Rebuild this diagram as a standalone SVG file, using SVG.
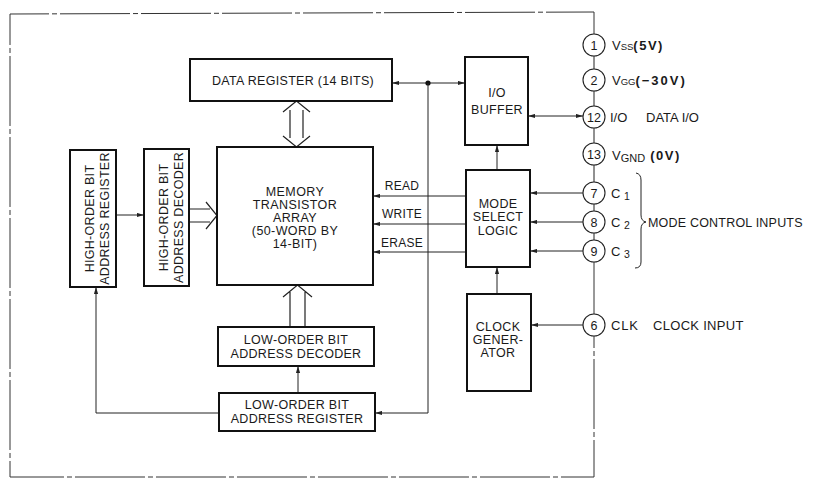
<svg xmlns="http://www.w3.org/2000/svg" width="813" height="479" viewBox="0 0 813 479">
<style>
  .box { fill: #fff; stroke: #111; stroke-width: 2; }
  .ln { fill: none; stroke: #222; stroke-width: 1; }
  .wide { fill: none; stroke: #222; stroke-width: 1.2; }
  .frame { fill: none; stroke: #333; stroke-width: 1; stroke-dasharray: 70 3 5 3; }
  .pin { fill: #fff; stroke: #222; stroke-width: 1.1; }
  text { font-family: "Liberation Sans", Arial, sans-serif; fill: #1a1a1a; }
  .t { font-size: 12.5px; text-anchor: middle; letter-spacing: 0.3px; }
  .m { font-size: 12.5px; text-anchor: middle; letter-spacing: 0.4px; }
  .lbl { font-size: 12px; text-anchor: middle; letter-spacing: 0.3px; }
  .pn { font-size: 12.5px; text-anchor: middle; }
  .pl { font-size: 13px; }
  .sub { font-size: 9.5px; }
</style>
<defs>
  <marker id="ah" viewBox="0 0 7 5" refX="7" refY="2.5" markerWidth="7" markerHeight="5" markerUnits="userSpaceOnUse" orient="auto-start-reverse">
    <path d="M0,0.4 L7,2.5 L0,4.6 z" fill="#222"/>
  </marker>
</defs>
<rect width="813" height="479" fill="#fff"/>

<g id="frame">
  <path class="frame" d="M594,34 L594,12 L10,14 L10,477 L594,477 L594,336"/>
  <path class="frame" d="M594,262 L594,314"/>
</g>

<g id="connectors">
  <path class="ln" d="M594,56 V69 M594,91 V106 M594,128 V143 M594,165 V182 M594,204 V211 M594,233 V240"/>
  <line class="ln" x1="428" y1="83" x2="392" y2="83" marker-end="url(#ah)"/>
  <line class="ln" x1="428" y1="83" x2="465" y2="83" marker-end="url(#ah)"/>
  <circle cx="428" cy="83" r="2.6" fill="#111"/>
  <path class="ln" d="M428,83 V413 H375" marker-end="url(#ah)"/>
  <line class="ln" x1="528" y1="116" x2="583" y2="116" marker-start="url(#ah)" marker-end="url(#ah)"/>
  <line class="ln" x1="497" y1="170" x2="497" y2="145" marker-end="url(#ah)"/>
  <line class="ln" x1="497" y1="294" x2="497" y2="267" marker-end="url(#ah)"/>
  <line class="ln" x1="583" y1="193" x2="530" y2="193" marker-end="url(#ah)"/>
  <line class="ln" x1="583" y1="222" x2="530" y2="222" marker-end="url(#ah)"/>
  <line class="ln" x1="583" y1="251" x2="530" y2="251" marker-end="url(#ah)"/>
  <line class="ln" x1="583" y1="325" x2="531" y2="325" marker-end="url(#ah)"/>
  <line class="ln" x1="466" y1="196" x2="373" y2="196" marker-end="url(#ah)"/>
  <line class="ln" x1="466" y1="224" x2="373" y2="224" marker-end="url(#ah)"/>
  <line class="ln" x1="466" y1="252" x2="373" y2="252" marker-end="url(#ah)"/>
  <text class="lbl" x="402" y="190">READ</text>
  <text class="lbl" x="402" y="218">WRITE</text>
  <text class="lbl" x="402" y="247">ERASE</text>
  <line class="ln" x1="116" y1="215" x2="144" y2="215" marker-end="url(#ah)"/>
  <path class="ln" d="M219,413 H96 V287" marker-end="url(#ah)"/>
  <line class="ln" x1="298" y1="393" x2="298" y2="366" marker-end="url(#ah)"/>
  <path class="wide" d="M189,209 H210 M189,222 H210 M206,202 L217,215.5 L206,229"/>
  <path class="wide" d="M290,110 V138 M303,110 V138 M283,112 L296.5,101 L310,112 M283,136 L296.5,147 L310,136"/>
  <path class="wide" d="M290,327 V292 M305,327 V292 M283,297 L297.5,285 L312,297"/>
  <path class="ln" d="M636,173 Q641,174 641,180 V215 Q641,221 646,222 Q641,223 641,229 V262 Q641,268 635,268"/>
  <text x="648" y="227" font-size="12.5" letter-spacing="0.2">MODE CONTROL INPUTS</text>
</g>

<g id="data-register">
  <rect class="box" x="190" y="59" width="202" height="42"/>
  <text class="t" x="293" y="85" font-size="13">DATA REGISTER (14 BITS)</text>
</g>

<g id="memory-array">
  <rect class="box" x="217" y="147" width="156" height="138"/>
  <text class="m" x="295" y="196">MEMORY</text>
  <text class="m" x="295" y="209">TRANSISTOR</text>
  <text class="m" x="295" y="222">ARRAY</text>
  <text class="m" x="295" y="235">(50-WORD BY</text>
  <text class="m" x="295" y="248">14-BIT)</text>
</g>

<g id="high-order-register">
  <rect class="box" x="70" y="150" width="46" height="137"/>
  <text class="t" transform="translate(94,218.5) rotate(-90)">HIGH-ORDER BIT</text>
  <text class="t" transform="translate(109,218.5) rotate(-90)">ADDRESS REGISTER</text>
</g>

<g id="high-order-decoder">
  <rect class="box" x="144" y="149" width="45" height="137"/>
  <text class="t" transform="translate(168,217.5) rotate(-90)">HIGH-ORDER BIT</text>
  <text class="t" transform="translate(183,217.5) rotate(-90)">ADDRESS DECODER</text>
</g>

<g id="low-order-decoder">
  <rect class="box" x="218" y="327" width="156" height="39"/>
  <text class="t" x="296" y="344" font-size="13">LOW-ORDER BIT</text>
  <text class="t" x="296" y="358" font-size="13">ADDRESS DECODER</text>
</g>

<g id="low-order-register">
  <rect class="box" x="219" y="393" width="156" height="38"/>
  <text class="t" x="297" y="409" font-size="13">LOW-ORDER BIT</text>
  <text class="t" x="297" y="423" font-size="13">ADDRESS REGISTER</text>
</g>

<g id="io-buffer">
  <rect class="box" x="465" y="57" width="63" height="88"/>
  <text class="t" x="497" y="97">I/O</text>
  <text class="t" x="497" y="114">BUFFER</text>
</g>

<g id="mode-select">
  <rect class="box" x="466" y="170" width="64" height="97"/>
  <text class="t" x="498" y="208">MODE</text>
  <text class="t" x="498" y="221">SELECT</text>
  <text class="t" x="498" y="235">LOGIC</text>
</g>

<g id="clock-generator">
  <rect class="box" x="467" y="294" width="64" height="97"/>
  <text class="t" x="498" y="331">CLOCK</text>
  <text class="t" x="498" y="344">GENER-</text>
  <text class="t" x="498" y="357">ATOR</text>
</g>

<g id="pin-1">
  <circle class="pin" cx="594" cy="45" r="11"/>
  <text class="pn" x="594" y="49.5">1</text>
  <text class="pl" x="612" y="50" font-size="14">V<tspan class="sub">SS</tspan><tspan font-weight="bold" font-size="13" letter-spacing="1.5">(5V)</tspan></text>
</g>
<g id="pin-2">
  <circle class="pin" cx="594" cy="80" r="11"/>
  <text class="pn" x="594" y="84.5">2</text>
  <text class="pl" x="612" y="85" font-size="14">V<tspan class="sub">GG</tspan><tspan font-weight="bold" font-size="13" letter-spacing="2">(−30V)</tspan></text>
</g>
<g id="pin-12">
  <circle class="pin" cx="594" cy="117" r="11"/>
  <text class="pn" x="594" y="121.5">12</text>
  <text class="pl" x="610" y="122" font-size="14">I/O</text>
  <text class="pl" x="646" y="122" font-size="12">DATA I/O</text>
</g>
<g id="pin-13">
  <circle class="pin" cx="594" cy="154" r="11"/>
  <text class="pn" x="594" y="158.5">13</text>
  <text class="pl" x="612" y="160" font-size="14">V<tspan font-size="11" dy="2">GND</tspan><tspan font-weight="bold" font-size="13" dy="-2" letter-spacing="1.5"> (0V)</tspan></text>
</g>
<g id="pin-7">
  <circle class="pin" cx="594" cy="193" r="11"/>
  <text class="pn" x="594" y="197.5">7</text>
  <text class="pl" x="611" y="198" font-size="14">C <tspan font-size="10.5" dy="2">1</tspan></text>
</g>
<g id="pin-8">
  <circle class="pin" cx="594" cy="222" r="11"/>
  <text class="pn" x="594" y="226.5">8</text>
  <text class="pl" x="611" y="227" font-size="14">C <tspan font-size="10.5" dy="2">2</tspan></text>
</g>
<g id="pin-9">
  <circle class="pin" cx="594" cy="251" r="11"/>
  <text class="pn" x="594" y="255.5">9</text>
  <text class="pl" x="611" y="256" font-size="14">C <tspan font-size="10.5" dy="2">3</tspan></text>
</g>
<g id="pin-6">
  <circle class="pin" cx="594" cy="325" r="11"/>
  <text class="pn" x="594" y="329.5">6</text>
  <text class="pl" x="611" y="330" letter-spacing="0.8">CLK</text>
  <text class="pl" x="653" y="330" font-size="12.5" letter-spacing="0.3">CLOCK INPUT</text>
</g>
</svg>
